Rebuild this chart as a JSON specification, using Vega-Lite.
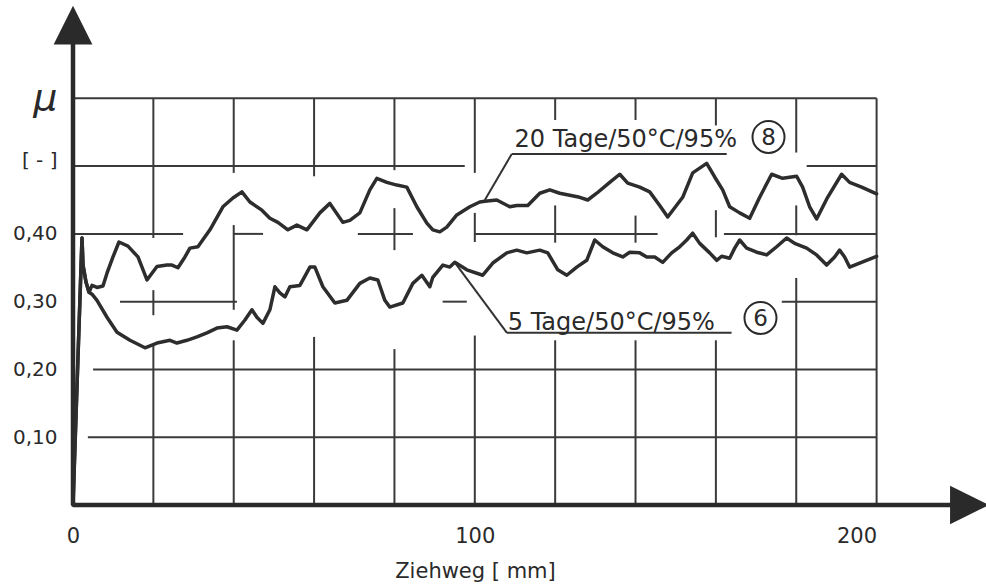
{
  "$schema": "https://vega.github.io/schema/vega-lite/v6.json",
  "width": 892,
  "height": 488,
  "autosize": {"type": "none"},
  "padding": {"left": 73, "top": 17, "right": 21, "bottom": 83},
  "background": "white",
  "config": {"view": {"stroke": null}, "font": "DejaVu Sans", "axis": {"grid": false, "ticks": false, "domain": false}},
  "datasets": {
    "grid": [
      {"x1": 0, "x2": 200, "y1": 0.6, "y2": 0.6},
      {"x1": 0, "x2": 97.5, "y1": 0.5, "y2": 0.5},
      {"x1": 182.6, "x2": 200, "y1": 0.5, "y2": 0.5},
      {"x1": 0, "x2": 27.4, "y1": 0.4, "y2": 0.4},
      {"x1": 39.8, "x2": 47.3, "y1": 0.4, "y2": 0.4},
      {"x1": 70.9, "x2": 84.6, "y1": 0.4, "y2": 0.4},
      {"x1": 100, "x2": 145.5, "y1": 0.4, "y2": 0.4},
      {"x1": 162, "x2": 200, "y1": 0.4, "y2": 0.4},
      {"x1": 11.7, "x2": 40.8, "y1": 0.3, "y2": 0.3},
      {"x1": 92, "x2": 98, "y1": 0.3, "y2": 0.3},
      {"x1": 176.4, "x2": 200, "y1": 0.3, "y2": 0.3},
      {"x1": 5, "x2": 200, "y1": 0.2, "y2": 0.2},
      {"x1": 3.7, "x2": 200, "y1": 0.1, "y2": 0.1},
      {"x1": 20, "x2": 20, "y1": 0.394, "y2": 0.6},
      {"x1": 20, "x2": 20, "y1": 0.28, "y2": 0.317},
      {"x1": 20, "x2": 20, "y1": 0, "y2": 0.236},
      {"x1": 40, "x2": 40, "y1": 0.49, "y2": 0.6},
      {"x1": 40, "x2": 40, "y1": 0.288, "y2": 0.413},
      {"x1": 40, "x2": 40, "y1": 0, "y2": 0.243},
      {"x1": 60, "x2": 60, "y1": 0.485, "y2": 0.6},
      {"x1": 60, "x2": 60, "y1": 0, "y2": 0.248},
      {"x1": 80, "x2": 80, "y1": 0.494, "y2": 0.6},
      {"x1": 80, "x2": 80, "y1": 0.376, "y2": 0.438},
      {"x1": 80, "x2": 80, "y1": 0, "y2": 0.23},
      {"x1": 100, "x2": 100, "y1": 0.49, "y2": 0.6},
      {"x1": 100, "x2": 100, "y1": 0.388, "y2": 0.431},
      {"x1": 100, "x2": 100, "y1": 0, "y2": 0.25},
      {"x1": 120, "x2": 120, "y1": 0.568, "y2": 0.6},
      {"x1": 120, "x2": 120, "y1": 0.387, "y2": 0.442},
      {"x1": 120, "x2": 120, "y1": 0, "y2": 0.243},
      {"x1": 140, "x2": 140, "y1": 0.568, "y2": 0.6},
      {"x1": 140, "x2": 140, "y1": 0.387, "y2": 0.427},
      {"x1": 140, "x2": 140, "y1": 0, "y2": 0.243},
      {"x1": 160, "x2": 160, "y1": 0.56, "y2": 0.6},
      {"x1": 160, "x2": 160, "y1": 0.395, "y2": 0.435},
      {"x1": 160, "x2": 160, "y1": 0, "y2": 0.243},
      {"x1": 180, "x2": 180, "y1": 0.52, "y2": 0.6},
      {"x1": 180, "x2": 180, "y1": 0.398, "y2": 0.442},
      {"x1": 180, "x2": 180, "y1": 0, "y2": 0.335},
      {"x1": 200, "x2": 200, "y1": 0, "y2": 0.6}
    ],
    "axes": [
      {"x1": 0, "x2": 0, "y1": 0, "y2": 0.681},
      {"x1": 0, "x2": 220, "y1": 0, "y2": 0}
    ],
    "leaders": [
      {"x1": 109.2, "x2": 162.7, "y1": 0.518, "y2": 0.518},
      {"x1": 109.2, "x2": 102.5, "y1": 0.518, "y2": 0.45},
      {"x1": 95.0, "x2": 108.0, "y1": 0.358, "y2": 0.254},
      {"x1": 108.0, "x2": 163.9, "y1": 0.254, "y2": 0.254}
    ],
    "labels": [
      {"x1": 109.9, "y1": 0.528, "label": "20 Tage/50°C/95%"},
      {"x1": 108.2, "y1": 0.258, "label": "5 Tage/50°C/95%"}
    ],
    "circles": [
      {"x1": 173.1, "y1": 0.543, "label": "8"},
      {"x1": 171.1, "y1": 0.276, "label": "6"}
    ],
    "arrows": [
      {"x1": 0, "y1": 0.708, "dir": "up"},
      {"x1": 223.1, "y1": 0, "dir": "right"}
    ],
    "curves": [
      {"serie": "20 Tage", "x1": 0, "y1": 0},
      {"serie": "20 Tage", "x1": 2.24, "y1": 0.394},
      {"serie": "20 Tage", "x1": 2.49, "y1": 0.354},
      {"serie": "20 Tage", "x1": 3.23, "y1": 0.329},
      {"serie": "20 Tage", "x1": 3.98, "y1": 0.314},
      {"serie": "20 Tage", "x1": 4.73, "y1": 0.324},
      {"serie": "20 Tage", "x1": 5.97, "y1": 0.321},
      {"serie": "20 Tage", "x1": 7.46, "y1": 0.323},
      {"serie": "20 Tage", "x1": 8.46, "y1": 0.342},
      {"serie": "20 Tage", "x1": 9.95, "y1": 0.366},
      {"serie": "20 Tage", "x1": 11.44, "y1": 0.388},
      {"serie": "20 Tage", "x1": 13.68, "y1": 0.382},
      {"serie": "20 Tage", "x1": 16.17, "y1": 0.366},
      {"serie": "20 Tage", "x1": 18.41, "y1": 0.332},
      {"serie": "20 Tage", "x1": 20.9, "y1": 0.352},
      {"serie": "20 Tage", "x1": 23.38, "y1": 0.354},
      {"serie": "20 Tage", "x1": 24.63, "y1": 0.354},
      {"serie": "20 Tage", "x1": 26.12, "y1": 0.35},
      {"serie": "20 Tage", "x1": 27.86, "y1": 0.366},
      {"serie": "20 Tage", "x1": 29.1, "y1": 0.379},
      {"serie": "20 Tage", "x1": 31.09, "y1": 0.381},
      {"serie": "20 Tage", "x1": 34.08, "y1": 0.406},
      {"serie": "20 Tage", "x1": 37.31, "y1": 0.44},
      {"serie": "20 Tage", "x1": 39.8, "y1": 0.453},
      {"serie": "20 Tage", "x1": 42.04, "y1": 0.462},
      {"serie": "20 Tage", "x1": 44.03, "y1": 0.447},
      {"serie": "20 Tage", "x1": 47.01, "y1": 0.435},
      {"serie": "20 Tage", "x1": 49.0, "y1": 0.423},
      {"serie": "20 Tage", "x1": 51.0, "y1": 0.417},
      {"serie": "20 Tage", "x1": 53.48, "y1": 0.406},
      {"serie": "20 Tage", "x1": 55.72, "y1": 0.413},
      {"serie": "20 Tage", "x1": 58.21, "y1": 0.406},
      {"serie": "20 Tage", "x1": 61.44, "y1": 0.431},
      {"serie": "20 Tage", "x1": 63.93, "y1": 0.445},
      {"serie": "20 Tage", "x1": 67.16, "y1": 0.417},
      {"serie": "20 Tage", "x1": 68.91, "y1": 0.42},
      {"serie": "20 Tage", "x1": 71.39, "y1": 0.431},
      {"serie": "20 Tage", "x1": 73.88, "y1": 0.465},
      {"serie": "20 Tage", "x1": 75.62, "y1": 0.482},
      {"serie": "20 Tage", "x1": 78.11, "y1": 0.476},
      {"serie": "20 Tage", "x1": 80.6, "y1": 0.472},
      {"serie": "20 Tage", "x1": 83.08, "y1": 0.469},
      {"serie": "20 Tage", "x1": 85.57, "y1": 0.44},
      {"serie": "20 Tage", "x1": 88.06, "y1": 0.416},
      {"serie": "20 Tage", "x1": 89.55, "y1": 0.406},
      {"serie": "20 Tage", "x1": 91.29, "y1": 0.403},
      {"serie": "20 Tage", "x1": 93.03, "y1": 0.41},
      {"serie": "20 Tage", "x1": 95.52, "y1": 0.428},
      {"serie": "20 Tage", "x1": 98.76, "y1": 0.44},
      {"serie": "20 Tage", "x1": 101.24, "y1": 0.447},
      {"serie": "20 Tage", "x1": 102.49, "y1": 0.448},
      {"serie": "20 Tage", "x1": 105.47, "y1": 0.45},
      {"serie": "20 Tage", "x1": 108.71, "y1": 0.44},
      {"serie": "20 Tage", "x1": 110.45, "y1": 0.442},
      {"serie": "20 Tage", "x1": 113.18, "y1": 0.442},
      {"serie": "20 Tage", "x1": 116.17, "y1": 0.46},
      {"serie": "20 Tage", "x1": 118.66, "y1": 0.465},
      {"serie": "20 Tage", "x1": 121.14, "y1": 0.46},
      {"serie": "20 Tage", "x1": 123.63, "y1": 0.457},
      {"serie": "20 Tage", "x1": 126.12, "y1": 0.454},
      {"serie": "20 Tage", "x1": 128.11, "y1": 0.45},
      {"serie": "20 Tage", "x1": 130.35, "y1": 0.46},
      {"serie": "20 Tage", "x1": 133.58, "y1": 0.476},
      {"serie": "20 Tage", "x1": 136.07, "y1": 0.488},
      {"serie": "20 Tage", "x1": 138.06, "y1": 0.475},
      {"serie": "20 Tage", "x1": 141.04, "y1": 0.469},
      {"serie": "20 Tage", "x1": 143.53, "y1": 0.462},
      {"serie": "20 Tage", "x1": 146.02, "y1": 0.442},
      {"serie": "20 Tage", "x1": 148.01, "y1": 0.425},
      {"serie": "20 Tage", "x1": 151.74, "y1": 0.454},
      {"serie": "20 Tage", "x1": 154.23, "y1": 0.49},
      {"serie": "20 Tage", "x1": 157.71, "y1": 0.504},
      {"serie": "20 Tage", "x1": 159.7, "y1": 0.484},
      {"serie": "20 Tage", "x1": 161.69, "y1": 0.465},
      {"serie": "20 Tage", "x1": 163.43, "y1": 0.44},
      {"serie": "20 Tage", "x1": 165.92, "y1": 0.431},
      {"serie": "20 Tage", "x1": 168.41, "y1": 0.423},
      {"serie": "20 Tage", "x1": 170.9, "y1": 0.454},
      {"serie": "20 Tage", "x1": 173.88, "y1": 0.488},
      {"serie": "20 Tage", "x1": 176.62, "y1": 0.482},
      {"serie": "20 Tage", "x1": 180.1, "y1": 0.485},
      {"serie": "20 Tage", "x1": 181.59, "y1": 0.469},
      {"serie": "20 Tage", "x1": 183.33, "y1": 0.44},
      {"serie": "20 Tage", "x1": 185.07, "y1": 0.422},
      {"serie": "20 Tage", "x1": 187.81, "y1": 0.454},
      {"serie": "20 Tage", "x1": 191.29, "y1": 0.488},
      {"serie": "20 Tage", "x1": 193.28, "y1": 0.476},
      {"serie": "20 Tage", "x1": 196.27, "y1": 0.469},
      {"serie": "20 Tage", "x1": 200, "y1": 0.459},
      {"serie": "5 Tage", "x1": 0, "y1": 0},
      {"serie": "5 Tage", "x1": 2.24, "y1": 0.394},
      {"serie": "5 Tage", "x1": 2.49, "y1": 0.354},
      {"serie": "5 Tage", "x1": 3.23, "y1": 0.329},
      {"serie": "5 Tage", "x1": 3.98, "y1": 0.314},
      {"serie": "5 Tage", "x1": 4.73, "y1": 0.311},
      {"serie": "5 Tage", "x1": 5.97, "y1": 0.302},
      {"serie": "5 Tage", "x1": 8.46, "y1": 0.277},
      {"serie": "5 Tage", "x1": 10.95, "y1": 0.255},
      {"serie": "5 Tage", "x1": 14.18, "y1": 0.243},
      {"serie": "5 Tage", "x1": 17.91, "y1": 0.232},
      {"serie": "5 Tage", "x1": 20.9, "y1": 0.239},
      {"serie": "5 Tage", "x1": 24.13, "y1": 0.243},
      {"serie": "5 Tage", "x1": 25.87, "y1": 0.239},
      {"serie": "5 Tage", "x1": 28.36, "y1": 0.243},
      {"serie": "5 Tage", "x1": 30.85, "y1": 0.248},
      {"serie": "5 Tage", "x1": 33.33, "y1": 0.254},
      {"serie": "5 Tage", "x1": 35.82, "y1": 0.261},
      {"serie": "5 Tage", "x1": 38.31, "y1": 0.263},
      {"serie": "5 Tage", "x1": 40.8, "y1": 0.258},
      {"serie": "5 Tage", "x1": 42.79, "y1": 0.273},
      {"serie": "5 Tage", "x1": 44.53, "y1": 0.288},
      {"serie": "5 Tage", "x1": 45.77, "y1": 0.277},
      {"serie": "5 Tage", "x1": 47.26, "y1": 0.268},
      {"serie": "5 Tage", "x1": 49.0, "y1": 0.288},
      {"serie": "5 Tage", "x1": 50.25, "y1": 0.322},
      {"serie": "5 Tage", "x1": 51.49, "y1": 0.313},
      {"serie": "5 Tage", "x1": 52.74, "y1": 0.307},
      {"serie": "5 Tage", "x1": 53.98, "y1": 0.322},
      {"serie": "5 Tage", "x1": 56.47, "y1": 0.324},
      {"serie": "5 Tage", "x1": 58.96, "y1": 0.351},
      {"serie": "5 Tage", "x1": 60.2, "y1": 0.351},
      {"serie": "5 Tage", "x1": 62.19, "y1": 0.322},
      {"serie": "5 Tage", "x1": 65.17, "y1": 0.298},
      {"serie": "5 Tage", "x1": 68.16, "y1": 0.302},
      {"serie": "5 Tage", "x1": 71.39, "y1": 0.327},
      {"serie": "5 Tage", "x1": 73.88, "y1": 0.335},
      {"serie": "5 Tage", "x1": 75.87, "y1": 0.332},
      {"serie": "5 Tage", "x1": 77.61, "y1": 0.302},
      {"serie": "5 Tage", "x1": 78.86, "y1": 0.292},
      {"serie": "5 Tage", "x1": 82.09, "y1": 0.298},
      {"serie": "5 Tage", "x1": 84.58, "y1": 0.327},
      {"serie": "5 Tage", "x1": 86.82, "y1": 0.339},
      {"serie": "5 Tage", "x1": 88.81, "y1": 0.322},
      {"serie": "5 Tage", "x1": 89.55, "y1": 0.336},
      {"serie": "5 Tage", "x1": 92.04, "y1": 0.354},
      {"serie": "5 Tage", "x1": 93.78, "y1": 0.351},
      {"serie": "5 Tage", "x1": 95.02, "y1": 0.358},
      {"serie": "5 Tage", "x1": 98.01, "y1": 0.347},
      {"serie": "5 Tage", "x1": 101.99, "y1": 0.339},
      {"serie": "5 Tage", "x1": 104.48, "y1": 0.357},
      {"serie": "5 Tage", "x1": 107.96, "y1": 0.372},
      {"serie": "5 Tage", "x1": 110.45, "y1": 0.376},
      {"serie": "5 Tage", "x1": 112.94, "y1": 0.372},
      {"serie": "5 Tage", "x1": 116.17, "y1": 0.376},
      {"serie": "5 Tage", "x1": 118.16, "y1": 0.372},
      {"serie": "5 Tage", "x1": 120.65, "y1": 0.347},
      {"serie": "5 Tage", "x1": 122.89, "y1": 0.339},
      {"serie": "5 Tage", "x1": 125.37, "y1": 0.351},
      {"serie": "5 Tage", "x1": 127.86, "y1": 0.361},
      {"serie": "5 Tage", "x1": 129.85, "y1": 0.391},
      {"serie": "5 Tage", "x1": 131.84, "y1": 0.381},
      {"serie": "5 Tage", "x1": 134.33, "y1": 0.372},
      {"serie": "5 Tage", "x1": 136.82, "y1": 0.366},
      {"serie": "5 Tage", "x1": 138.56, "y1": 0.373},
      {"serie": "5 Tage", "x1": 141.04, "y1": 0.372},
      {"serie": "5 Tage", "x1": 142.79, "y1": 0.366},
      {"serie": "5 Tage", "x1": 144.78, "y1": 0.366},
      {"serie": "5 Tage", "x1": 146.77, "y1": 0.358},
      {"serie": "5 Tage", "x1": 149.0, "y1": 0.372},
      {"serie": "5 Tage", "x1": 150.99, "y1": 0.381},
      {"serie": "5 Tage", "x1": 152.74, "y1": 0.391},
      {"serie": "5 Tage", "x1": 154.23, "y1": 0.401},
      {"serie": "5 Tage", "x1": 155.97, "y1": 0.386},
      {"serie": "5 Tage", "x1": 158.46, "y1": 0.372},
      {"serie": "5 Tage", "x1": 160.2, "y1": 0.361},
      {"serie": "5 Tage", "x1": 161.44, "y1": 0.367},
      {"serie": "5 Tage", "x1": 163.43, "y1": 0.364},
      {"serie": "5 Tage", "x1": 164.68, "y1": 0.379},
      {"serie": "5 Tage", "x1": 165.92, "y1": 0.391},
      {"serie": "5 Tage", "x1": 167.66, "y1": 0.379},
      {"serie": "5 Tage", "x1": 170.15, "y1": 0.373},
      {"serie": "5 Tage", "x1": 172.64, "y1": 0.369},
      {"serie": "5 Tage", "x1": 175.12, "y1": 0.381},
      {"serie": "5 Tage", "x1": 177.61, "y1": 0.394},
      {"serie": "5 Tage", "x1": 179.6, "y1": 0.386},
      {"serie": "5 Tage", "x1": 182.59, "y1": 0.379},
      {"serie": "5 Tage", "x1": 185.07, "y1": 0.369},
      {"serie": "5 Tage", "x1": 187.56, "y1": 0.354},
      {"serie": "5 Tage", "x1": 189.55, "y1": 0.366},
      {"serie": "5 Tage", "x1": 190.8, "y1": 0.376},
      {"serie": "5 Tage", "x1": 192.04, "y1": 0.366},
      {"serie": "5 Tage", "x1": 193.28, "y1": 0.351},
      {"serie": "5 Tage", "x1": 195.77, "y1": 0.357},
      {"serie": "5 Tage", "x1": 200, "y1": 0.367}
    ]
  },
  "encoding": {
    "x": {
      "field": "x1", "type": "quantitative",
      "scale": {"domain": [0, 222], "nice": false, "zero": false},
      "axis": {
        "values": [0, 100, 200],
        "domain": false, "ticks": false, "grid": false,
        "labelFontSize": 21, "labelPadding": 20, "labelColor": "#2a2a2a",
        "labelFlush": false,
        "labelAlign": {"condition": {"test": "datum.value == 200", "value": "right"}, "value": "center"},
        "title": "Ziehweg [ mm]",
        "titleFontSize": 21, "titleFontWeight": "normal", "titleColor": "#2a2a2a",
        "titleX": 402, "titleY": 55, "titleAlign": "center", "titleBaseline": "top"
      }
    },
    "y": {
      "field": "y1", "type": "quantitative",
      "scale": {"domain": [0, 0.72], "nice": false, "zero": false},
      "axis": {
        "values": [0.1, 0.2, 0.3, 0.4, 0.5, 0.6],
        "domain": false, "ticks": false, "grid": false,
        "labelPadding": 16, "labelColor": "#2a2a2a",
        "labelFontSize": {"condition": {"test": "datum.value == 0.6", "value": 38}, "value": 20},
        "labelFontStyle": {"condition": {"test": "datum.value == 0.6", "value": "italic"}, "value": "normal"},
        "labelBaseline": {"condition": {"test": "datum.value == 0.5", "value": "alphabetic"}, "value": "middle"},
        "labelExpr": "datum.value == 0.6 ? 'μ\u00a0' : datum.value == 0.5 ? '[ - ]\u00a0\u00a0' : replace(format(datum.value, '.2f'), '.', ',')",
        "title": null
      }
    }
  },
  "layer": [
    {
      "data": {"name": "grid"},
      "mark": {"type": "rule", "stroke": "#3a3a3a", "strokeWidth": 2},
      "encoding": {"x2": {"field": "x2"}, "y2": {"field": "y2"}}
    },
    {
      "data": {"name": "axes"},
      "mark": {"type": "rule", "stroke": "#2a2a2a", "strokeWidth": 4.5},
      "encoding": {"x2": {"field": "x2"}, "y2": {"field": "y2"}}
    },
    {
      "data": {"name": "leaders"},
      "mark": {"type": "rule", "stroke": "#333333", "strokeWidth": 2},
      "encoding": {"x2": {"field": "x2"}, "y2": {"field": "y2"}}
    },
    {
      "data": {"name": "curves"},
      "mark": {"type": "line", "stroke": "#2d2d2d", "strokeWidth": 3.5, "strokeJoin": "round", "strokeCap": "round"},
      "encoding": {"detail": {"field": "serie", "type": "nominal"}}
    },
    {
      "data": {"name": "labels"},
      "mark": {"type": "text", "align": "left", "baseline": "alphabetic", "fontSize": 24, "color": "#2a2a2a"},
      "encoding": {"text": {"field": "label", "type": "nominal"}}
    },
    {
      "data": {"name": "circles"},
      "mark": {"type": "point", "shape": "circle", "filled": false, "size": 1024, "stroke": "#2a2a2a", "strokeWidth": 2, "opacity": 1},
      "encoding": {}
    },
    {
      "data": {"name": "circles"},
      "mark": {"type": "text", "align": "center", "baseline": "middle", "fontSize": 23, "color": "#2a2a2a", "dy": 1},
      "encoding": {"text": {"field": "label", "type": "nominal"}}
    },
    {
      "data": {"name": "arrows"},
      "mark": {"type": "point", "filled": true, "size": 1500, "fill": "#2a2a2a", "strokeWidth": 0, "opacity": 1},
      "encoding": {
        "shape": {
          "field": "dir", "type": "nominal",
          "scale": {"domain": ["up", "right"], "range": ["M0,-1L1,1L-1,1Z", "M-1,-1L1,0L-1,1Z"]},
          "legend": null
        }
      }
    }
  ]
}
